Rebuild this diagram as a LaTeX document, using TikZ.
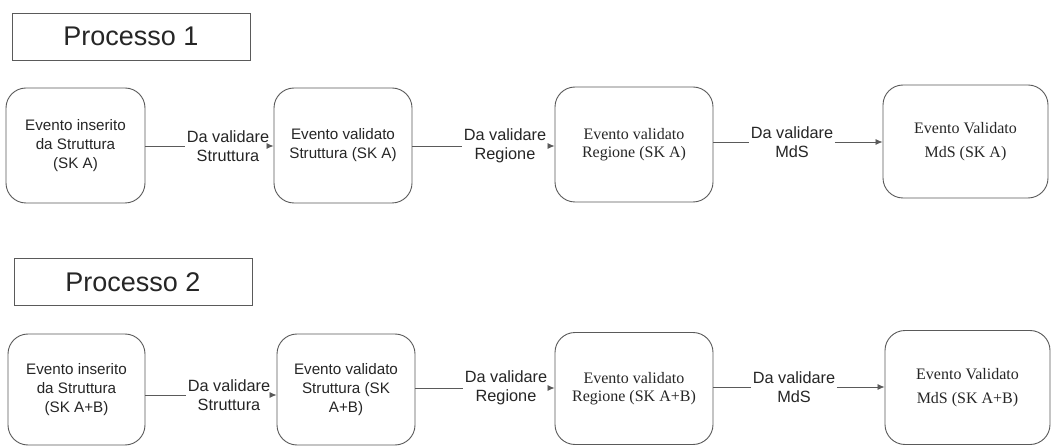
\documentclass[tikz,border=0pt]{standalone}
\usepackage{fontspec}
\setmainfont{Liberation Sans}
\newfontfamily\tnr{Liberation Serif}
\usetikzlibrary{arrows.meta}
\definecolor{ink}{HTML}{262626}
\definecolor{edge}{HTML}{5A5A5A}
\tikzset{
  title/.style={draw=edge, line width=0.9pt, minimum width=238pt, minimum height=47pt, inner sep=0pt, font=\fontsize{27}{31}\selectfont, text=ink},
  evbox/.style={draw=edge, line width=0.9pt, rounded corners=20pt, inner sep=0pt, align=center, text=ink, font=\fontsize{15.2}{19}\selectfont},
  tbox/.style={evbox, font=\tnr\fontsize{16}{18}\selectfont},
  lab/.style={align=center, inner sep=1.5pt, text=ink, font=\fontsize{16.3}{19}\selectfont},
  conn/.style={draw=edge, line width=0.8pt},
  arr/.style={conn, -{Latex[length=7pt,width=6pt]}}
}
\begin{document}
\begin{tikzpicture}[x=1pt,y=-1pt]
\useasboundingbox[fill=white] (0,0) rectangle (1052,446);
% Process 1
\node[title] (t1) at (131,36.5) {Processo 1};
\node[evbox, minimum width=139pt, minimum height=115pt] (a1) at (75.5,145.5) {Evento inserito\\da Struttura\\(SK A)};
\node[evbox, minimum width=138pt, minimum height=115pt] (b1) at (343,145.5) {Evento validato\\Struttura (SK A)};
\node[tbox, minimum width=158pt, minimum height=115pt] (c1) at (634,144.5) {Evento validato\\Regione (SK A)};
\node[tbox, minimum width=165pt, minimum height=113pt, font=\tnr\fontsize{16}{24}\selectfont] (d1) at (965.5,141.5) {Evento Validato\\MdS (SK A)};
\node[lab] (l11) at (228,146) {Da validare\\Struttura};
\node[lab] (l12) at (505,146) {Da validare\\Regione};
\node[lab] (l13) at (792,142) {Da validare\\MdS};
\draw[conn] (a1.east |- l11) -- (l11.west);
\draw[arr] (l11.east) -- (b1.west |- l11);
\draw[conn] (b1.east |- l12) -- (l12.west);
\draw[arr] (l12.east) -- (c1.west |- l12);
\draw[conn] (c1.east |- l13) -- (l13.west);
\draw[arr] (l13.east) -- (d1.west |- l13);
% Process 2
\node[title] (t2) at (133,282) {Processo 2};
\node[evbox, minimum width=137pt, minimum height=111pt] (a2) at (76.5,389.5) {Evento inserito\\da Struttura\\(SK A+B)};
\node[evbox, minimum width=138pt, minimum height=111pt] (b2) at (346,389.5) {Evento validato\\Struttura (SK\\A+B)};
\node[tbox, minimum width=158pt, minimum height=112pt] (c2) at (634,388.5) {Evento validato\\Regione (SK A+B)};
\node[tbox, minimum width=165pt, minimum height=114pt, font=\tnr\fontsize{16}{24}\selectfont] (d2) at (967.5,387.5) {Evento Validato\\MdS (SK A+B)};
\node[lab] (l21) at (229,395) {Da validare\\Struttura};
\node[lab] (l22) at (506,388) {Da validare\\Regione};
\node[lab] (l23) at (794,387) {Da validare\\MdS};
\draw[conn] (a2.east |- l21) -- (l21.west);
\draw[arr] (l21.east) -- (b2.west |- l21);
\draw[conn] (b2.east |- l22) -- (l22.west);
\draw[arr] (l22.east) -- (c2.west |- l22);
\draw[conn] (c2.east |- l23) -- (l23.west);
\draw[arr] (l23.east) -- (d2.west |- l23);
\end{tikzpicture}
\end{document}
